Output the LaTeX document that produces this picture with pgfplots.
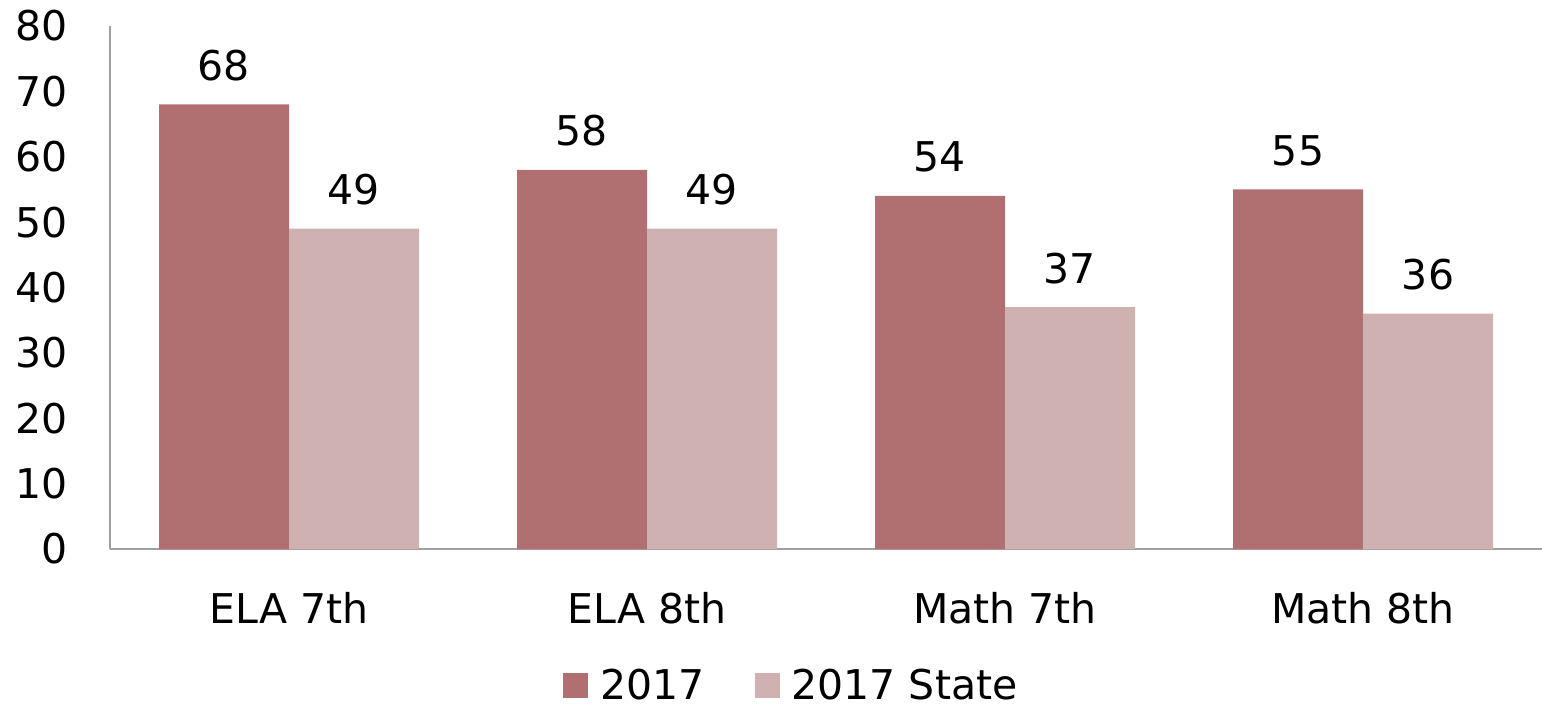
\documentclass[border=0pt]{standalone}
\usepackage{fontspec}
\setmainfont{DejaVu Sans}
\usepackage{pgfplots}
\pgfplotsset{compat=1.18}
\definecolor{barDark}{HTML}{B07072}
\definecolor{barLight}{HTML}{CFB1B2}
\definecolor{axisGray}{HTML}{A0A0A0}
\begin{document}
\begin{tikzpicture}[font=\fontsize{20.5}{24.6}\selectfont]
\useasboundingbox (0,0) rectangle (771pt,353.5pt);
\begin{axis}[
    at={(55pt,79pt)}, anchor=south west,
    scale only axis,
    width=716pt, height=261.5pt,
    ybar=0pt, bar width=65pt,
    xmin=-0.5, xmax=3.5, ymin=0, ymax=80,
    enlargelimits=false,
    axis x line=bottom, axis y line=left,
    axis line style={axisGray, line width=0.75pt, -},
    major tick length=0pt,
    xtick={0,1,2,3},
    xticklabels={ELA 7th, ELA 8th, Math 7th, Math 8th},
    ytick={0,10,...,80},
    /pgf/number format/assume math mode=true,
    yticklabel style={inner sep=0pt, anchor=east, xshift=-21pt},
    xticklabel style={inner sep=0pt, anchor=base, yshift=-37pt},
    nodes near coords,
    nodes near coords style={black, anchor=south, inner sep=0pt, yshift=11.5pt},
    legend columns=2,
    legend style={draw=none, fill=none, inner sep=0pt,
        nodes={inner sep=0pt},
        at={(axis description cs:0.3163,-0.261)}, anchor=west,
        /tikz/every odd column/.append style={column sep=6pt},
        /tikz/every even column/.append style={column sep=25pt}},
    legend image code/.code={\fill[#1] (0pt,-6pt) rectangle (12.5pt,6.5pt);},
]
\addplot[fill=barDark, draw=none] coordinates {(0,68) (1,58) (2,54) (3,55)};
\addplot[fill=barLight, draw=none] coordinates {(0,49) (1,49) (2,37) (3,36)};
\legend{2017, 2017 State}
\end{axis}
\end{tikzpicture}
\end{document}
